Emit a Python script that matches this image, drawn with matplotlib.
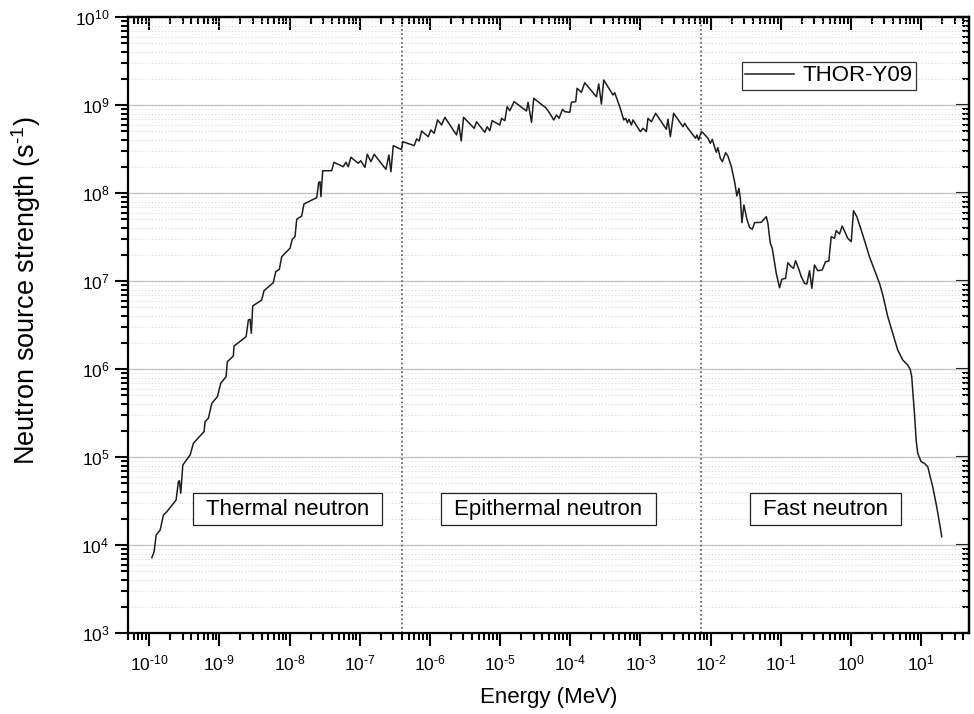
import matplotlib
matplotlib.use('Agg')
import matplotlib.pyplot as plt
import numpy as np
from matplotlib.patches import Rectangle
from matplotlib.ticker import LogLocator, NullFormatter, FuncFormatter

plt.rcParams['font.family'] = ['Liberation Sans', 'DejaVu Sans']
plt.rcParams['mathtext.fontset'] = 'custom'
plt.rcParams['mathtext.rm'] = 'Liberation Sans'
plt.rcParams['mathtext.it'] = 'Liberation Sans:italic'
plt.rcParams['mathtext.bf'] = 'Liberation Sans:bold'
plt.rcParams['axes.unicode_minus'] = False

# spectrum (log10 of energy in MeV, log10 of strength in 1/s)
log_energy = [
    -9.962, -9.929, -9.900, -9.843, -9.796, -9.748, -9.616, -9.583, -9.569, -9.549,
    -9.520, -9.416, -9.369, -9.284, -9.217, -9.203, -9.156, -9.107, -9.028, -8.979,
    -8.904, -8.885, -8.800, -8.790, -8.619, -8.586, -8.562, -8.544, -8.524, -8.396,
    -8.363, -8.231, -8.196, -8.145, -8.111, -7.993, -7.960, -7.922, -7.897, -7.826,
    -7.794, -7.613, -7.584, -7.566, -7.552, -7.527, -7.399, -7.367, -7.234, -7.196,
    -7.163, -7.125, -7.021, -6.986, -6.925, -6.892, -6.840, -6.793, -6.626, -6.584,
    -6.555, -6.522, -6.406, -6.384, -6.223, -6.189, -6.152, -6.118, -6.024, -5.986,
    -5.939, -5.890, -5.833, -5.786, -5.620, -5.587, -5.554, -5.520, -5.369, -5.335,
    -5.217, -5.184, -5.146, -5.113, -5.004, -4.979, -4.932, -4.900, -4.861, -4.800,
    -4.623, -4.601, -4.552, -4.520, -4.387, -4.353, -4.292, -4.235, -4.196, -4.159,
    -4.111, -4.078, -4.007, -3.983, -3.922, -3.903, -3.841, -3.794, -3.627, -3.594,
    -3.556, -3.523, -3.391, -3.367, -3.295, -3.238, -3.210, -3.186, -3.163, -3.129,
    -3.106, -3.001, -2.964, -2.915, -2.893, -2.844, -2.783, -2.631, -2.608, -2.574,
    -2.527, -2.394, -2.370, -2.323, -2.214, -2.195, -2.171, -2.132, -2.110, -2.038,
    -2.004, -1.976, -1.943, -1.919, -1.896, -1.862, -1.833, -1.786, -1.754, -1.705,
    -1.658, -1.626, -1.597, -1.577, -1.554, -1.526, -1.483, -1.445, -1.406, -1.374,
    -1.278, -1.207, -1.184, -1.150, -1.122, -1.065, -1.018, -0.985, -0.932, -0.900,
    -0.851, -0.819, -0.790, -0.743, -0.709, -0.662, -0.629, -0.591, -0.558, -0.520,
    -0.473, -0.410, -0.363, -0.316, -0.282, -0.235, -0.211, -0.164, -0.125, -0.046,
    0.003, 0.036, 0.083, 0.168, 0.263, 0.335, 0.406, 0.453, 0.524, 0.595,
    0.666, 0.737, 0.809, 0.843, 0.865, 0.904, 0.928, 0.951, 0.999, 1.046,
    1.093, 1.164, 1.221, 1.270, 1.293,
]
log_strength = [
    3.856, 3.924, 4.114, 4.170, 4.341, 4.378, 4.511, 4.719, 4.731, 4.588,
    4.909, 5.023, 5.156, 5.231, 5.288, 5.401, 5.440, 5.610, 5.685, 5.838,
    5.913, 6.083, 6.148, 6.261, 6.367, 6.557, 6.565, 6.406, 6.716, 6.784,
    6.890, 6.981, 7.106, 7.133, 7.276, 7.372, 7.474, 7.503, 7.701, 7.739,
    7.875, 7.947, 8.117, 8.128, 7.958, 8.253, 8.253, 8.349, 8.299, 8.349,
    8.299, 8.406, 8.338, 8.367, 8.292, 8.440, 8.356, 8.440, 8.269, 8.432,
    8.242, 8.538, 8.494, 8.583, 8.538, 8.614, 8.591, 8.705, 8.640, 8.716,
    8.678, 8.830, 8.773, 8.860, 8.659, 8.781, 8.591, 8.860, 8.735, 8.810,
    8.690, 8.753, 8.708, 8.822, 8.773, 8.849, 8.822, 8.981, 8.935, 9.038,
    8.932, 9.031, 8.803, 9.076, 8.992, 8.974, 8.906, 8.830, 8.886, 8.849,
    8.951, 8.924, 8.917, 9.031, 9.038, 9.190, 9.144, 9.253, 9.094, 9.239,
    9.011, 9.284, 9.114, 9.140, 8.981, 8.830, 8.849, 8.799, 8.838, 8.773,
    8.830, 8.697, 8.735, 8.697, 8.849, 8.810, 8.906, 8.724, 8.838, 8.640,
    8.906, 8.753, 8.792, 8.735, 8.622, 8.659, 8.602, 8.697, 8.685, 8.622,
    8.565, 8.610, 8.519, 8.463, 8.515, 8.394, 8.356, 8.458, 8.420, 8.299,
    8.128, 7.966, 8.053, 7.940, 7.663, 7.864, 7.701, 7.610, 7.588, 7.663,
    7.667, 7.731, 7.656, 7.428, 7.372, 7.088, 6.924, 7.019, 7.031, 7.208,
    7.163, 7.144, 7.231, 7.133, 7.049, 6.974, 6.966, 7.117, 6.917, 7.182,
    7.117, 7.125, 7.219, 7.227, 7.503, 7.485, 7.572, 7.534, 7.625, 7.485,
    7.447, 7.799, 7.731, 7.523, 7.276, 7.125, 6.974, 6.841, 6.594, 6.406,
    6.216, 6.102, 6.045, 5.997, 5.913, 5.497, 5.193, 5.042, 4.947, 4.928,
    4.890, 4.663, 4.435, 4.208, 4.094,
]

region_bounds = [4.0e-7, 7.2e-3]   # MeV
region_names = ['Thermal neutron', 'Epithermal neutron', 'Fast neutron']
series_name = 'THOR-Y09'

energy = 10.0 ** np.array(log_energy)
strength = 10.0 ** np.array(log_strength)


def pow10_label(v, pos):
    # short hyphen in the exponent, like the original
    e = int(round(np.log10(v)))
    s = str(e).replace('-', '\u2010')
    return '$\\mathregular{10^{%s}}$' % s


def log_ticks(axis):
    axis.set_major_locator(LogLocator(base=10, numticks=100))
    axis.set_minor_locator(LogLocator(base=10, subs=np.arange(2, 10), numticks=100))
    axis.set_minor_formatter(NullFormatter())


fig = plt.figure(figsize=(9.74, 7.14), dpi=100)
ax = fig.add_axes([128 / 974, 81 / 714, 841 / 974, 616 / 714])

ax.plot(energy, strength, color='#1e1e1e', lw=1.1, label=series_name, zorder=3)
ax.set_xscale('log')
ax.set_yscale('log')
ax.set_xlim(5e-11, 48)
ax.set_ylim(1e3, 1e10)

for b in region_bounds:
    ax.axvline(b, color='#555555', ls=(0, (1, 1.6)), lw=1.2, zorder=2)

log_ticks(ax.xaxis)
log_ticks(ax.yaxis)
ax.xaxis.set_major_formatter(FuncFormatter(pow10_label))
ax.yaxis.set_major_formatter(FuncFormatter(pow10_label))

ax.yaxis.grid(True, which='major', color='#c4c4c4', lw=1.0, ls='-')
ax.yaxis.grid(True, which='minor', color='#d8d8d8', lw=0.8, ls=(0, (1, 2)))
ax.set_axisbelow(True)

for s in ax.spines.values():
    s.set_linewidth(1.6)
ax.tick_params(which='both', direction='out', width=1.5, labelsize=12.5, colors='black')
ax.tick_params(which='major', length=9.5)
ax.tick_params(which='minor', length=5)
ax.tick_params(axis='x', pad=5)
ax.tick_params(axis='y', pad=4)

top = ax.secondary_xaxis('top')
log_ticks(top.xaxis)
top.xaxis.set_major_formatter(NullFormatter())
top.tick_params(which='both', direction='in', width=1.5)
top.tick_params(which='major', length=9.5)
top.tick_params(which='minor', length=5)
top.spines['top'].set_linewidth(1.6)

right = ax.secondary_yaxis('right')
log_ticks(right.yaxis)
right.yaxis.set_major_formatter(NullFormatter())
right.tick_params(which='both', direction='in', width=1.5)
right.tick_params(which='major', length=9.5)
right.tick_params(which='minor', length=5)
right.spines['right'].set_linewidth(1.6)

ax.set_xlabel('Energy (MeV)', fontsize=16)
ax.set_ylabel('Neutron source strength (s$^{\u20101}$)', fontsize=19.5)
ax.xaxis.set_label_coords(0.5, -0.088)
ax.yaxis.set_label_coords(-0.101, 0.556)

leg = ax.legend(loc='upper right', bbox_to_anchor=(0.937, 0.927), borderaxespad=0,
                fontsize=16, frameon=True, fancybox=False, edgecolor='#333333',
                borderpad=0.15, handlelength=2.2, handletextpad=0.4, framealpha=1)
leg.get_frame().set_linewidth(0.9)

region_x = [0.19, 0.50, 0.829]
texts = []
for name, xpos in zip(region_names, region_x):
    texts.append(ax.text(xpos, 0.20, name, transform=ax.transAxes, ha='center',
                         va='center', fontsize=16, zorder=6))

fig.canvas.draw()
renderer = fig.canvas.get_renderer()
inv = ax.transAxes.inverted()
for t in texts:
    bb = t.get_window_extent(renderer)
    (x0, y0), (x1, y1) = inv.transform([[bb.x0 - 13, bb.y0 - 5], [bb.x1 + 13, bb.y1 + 6]])
    ax.add_patch(Rectangle((x0, y0), x1 - x0, y1 - y0, transform=ax.transAxes,
                           facecolor='white', edgecolor='#222222', lw=0.9, zorder=5))

fig.savefig('out.png', dpi=100)
